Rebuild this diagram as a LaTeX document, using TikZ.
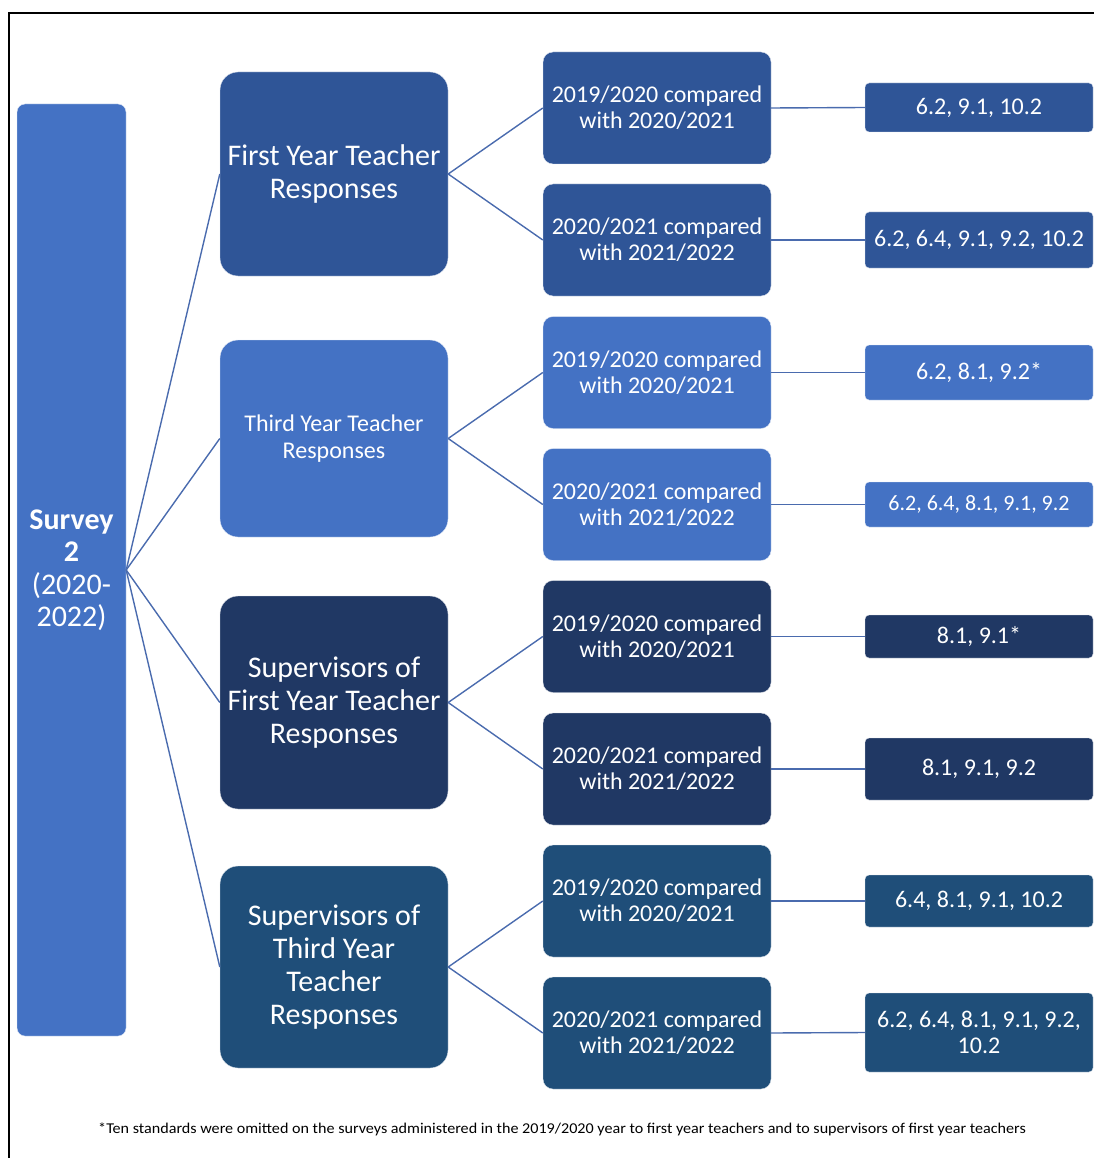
\documentclass[tikz,border=0pt]{standalone}
\usepackage{fontspec}
\setmainfont{Carlito}
\usepackage{tikz}
\usetikzlibrary{positioning}

\definecolor{midblue}{HTML}{4472C4}
\definecolor{royblue}{HTML}{2F5597}
\definecolor{navyblue}{HTML}{203864}
\definecolor{steelblue}{HTML}{1F4E79}
\definecolor{linkblue}{HTML}{4A6BAE}

\tikzset{
  surveybox/.style={fill=midblue, draw=white!85!midblue, rounded corners=8pt, minimum width=109pt, minimum height=932pt, text=white, align=center, inner sep=0pt, font=\fontsize{30}{32.5}\selectfont},
  groupbox/.style={draw=white!85!#1, fill=#1, rounded corners=18pt, minimum width=228pt, text=white, align=center, inner sep=0pt, font=\fontsize{30}{33}\selectfont},
  yearbox/.style={draw=white!85!#1, fill=#1, rounded corners=10pt, minimum width=228pt, minimum height=112pt, text=white, align=center, inner sep=0pt, font=\fontsize{24}{26}\selectfont},
  stdbox/.style={draw=white!85!#1, fill=#1, rounded corners=4pt, minimum width=228pt, text=white, align=center, inner sep=0pt, font=\fontsize{24}{26}\selectfont},
  link/.style={draw=linkblue, line width=1.4pt}
}

\begin{document}
\begin{tikzpicture}[x=1pt, y=-1pt]
\useasboundingbox (0,0) rectangle (1094,1158);
% frame
\draw[line width=2.4pt] (9,1158) -- (9,13) -- (1094,13);

% survey
\node[surveybox] (survey) at (71.5,570) {\textbf{Survey}\\\textbf{2}\\(2020-\\2022)};

% groups
\node[groupbox=royblue, minimum height=204pt] (fyt) at (334,174) {First Year Teacher\\Responses};
\node[groupbox=midblue, minimum height=197pt, font=\fontsize{24}{27}\selectfont] (tyt) at (334,438.5) {Third Year Teacher\\Responses};
\node[groupbox=navyblue, minimum height=213pt] (sfyt) at (334,702.5) {Supervisors of\\First Year Teacher\\Responses};
\node[groupbox=steelblue, minimum height=202pt] (styt) at (334,967) {Supervisors of\\Third Year\\Teacher\\Responses};

% year comparisons
\node[yearbox=royblue] (fytA) at (657,108) {2019/2020 compared\\with 2020/2021};
\node[yearbox=royblue] (fytB) at (657,240) {2020/2021 compared\\with 2021/2022};
\node[yearbox=midblue] (tytA) at (657,372.5) {2019/2020 compared\\with 2020/2021};
\node[yearbox=midblue] (tytB) at (657,504.5) {2020/2021 compared\\with 2021/2022};
\node[yearbox=navyblue] (sfytA) at (657,636.5) {2019/2020 compared\\with 2020/2021};
\node[yearbox=navyblue] (sfytB) at (657,769) {2020/2021 compared\\with 2021/2022};
\node[yearbox=steelblue] (stytA) at (657,901) {2019/2020 compared\\with 2020/2021};
\node[yearbox=steelblue] (stytB) at (657,1033) {2020/2021 compared\\with 2021/2022};

% standards
\node[stdbox=royblue, minimum height=49pt] (fytAs) at (979,107.5) {6.2, 9.1, 10.2};
\node[stdbox=royblue, minimum height=56pt] (fytBs) at (979,240) {6.2, 6.4, 9.1, 9.2, 10.2};
\node[stdbox=midblue, minimum height=55pt] (tytAs) at (979,372.5) {6.2, 8.1, 9.2*};
\node[stdbox=midblue, minimum height=45pt, font=\fontsize{22}{24}\selectfont] (tytBs) at (979,504.5) {6.2, 6.4, 8.1, 9.1, 9.2};
\node[stdbox=navyblue, minimum height=43pt] (sfytAs) at (979,636.5) {8.1, 9.1*};
\node[stdbox=navyblue, minimum height=62pt] (sfytBs) at (979,769) {8.1, 9.1, 9.2};
\node[stdbox=steelblue, minimum height=52pt] (stytAs) at (979,901) {6.4, 8.1, 9.1, 10.2};
\node[stdbox=steelblue, minimum height=79pt] (stytBs) at (979,1032.5) {6.2, 6.4, 8.1, 9.1, 9.2,\\10.2};

% connectors
\draw[link] (survey.east) -- (fyt.west);
\draw[link] (survey.east) -- (tyt.west);
\draw[link] (survey.east) -- (sfyt.west);
\draw[link] (survey.east) -- (styt.west);
\draw[link] (fyt.east) -- (fytA.west);
\draw[link] (fyt.east) -- (fytB.west);
\draw[link] (tyt.east) -- (tytA.west);
\draw[link] (tyt.east) -- (tytB.west);
\draw[link] (sfyt.east) -- (sfytA.west);
\draw[link] (sfyt.east) -- (sfytB.west);
\draw[link] (styt.east) -- (stytA.west);
\draw[link] (styt.east) -- (stytB.west);
\draw[link] (fytA.east) -- (fytAs.west);
\draw[link] (fytB.east) -- (fytBs.west);
\draw[link] (tytA.east) -- (tytAs.west);
\draw[link] (tytB.east) -- (tytBs.west);
\draw[link] (sfytA.east) -- (sfytAs.west);
\draw[link] (sfytB.east) -- (sfytBs.west);
\draw[link] (stytA.east) -- (stytAs.west);
\draw[link] (stytB.east) -- (stytBs.west);

% footnote
\node[font=\fontsize{15}{17}\selectfont] (note) at (562,1129) {\scalebox{1.075}[1]{*Ten standards were omitted on the surveys administered in the 2019/2020 year to first year teachers and to supervisors of first year teachers}};
\end{tikzpicture}
\end{document}
